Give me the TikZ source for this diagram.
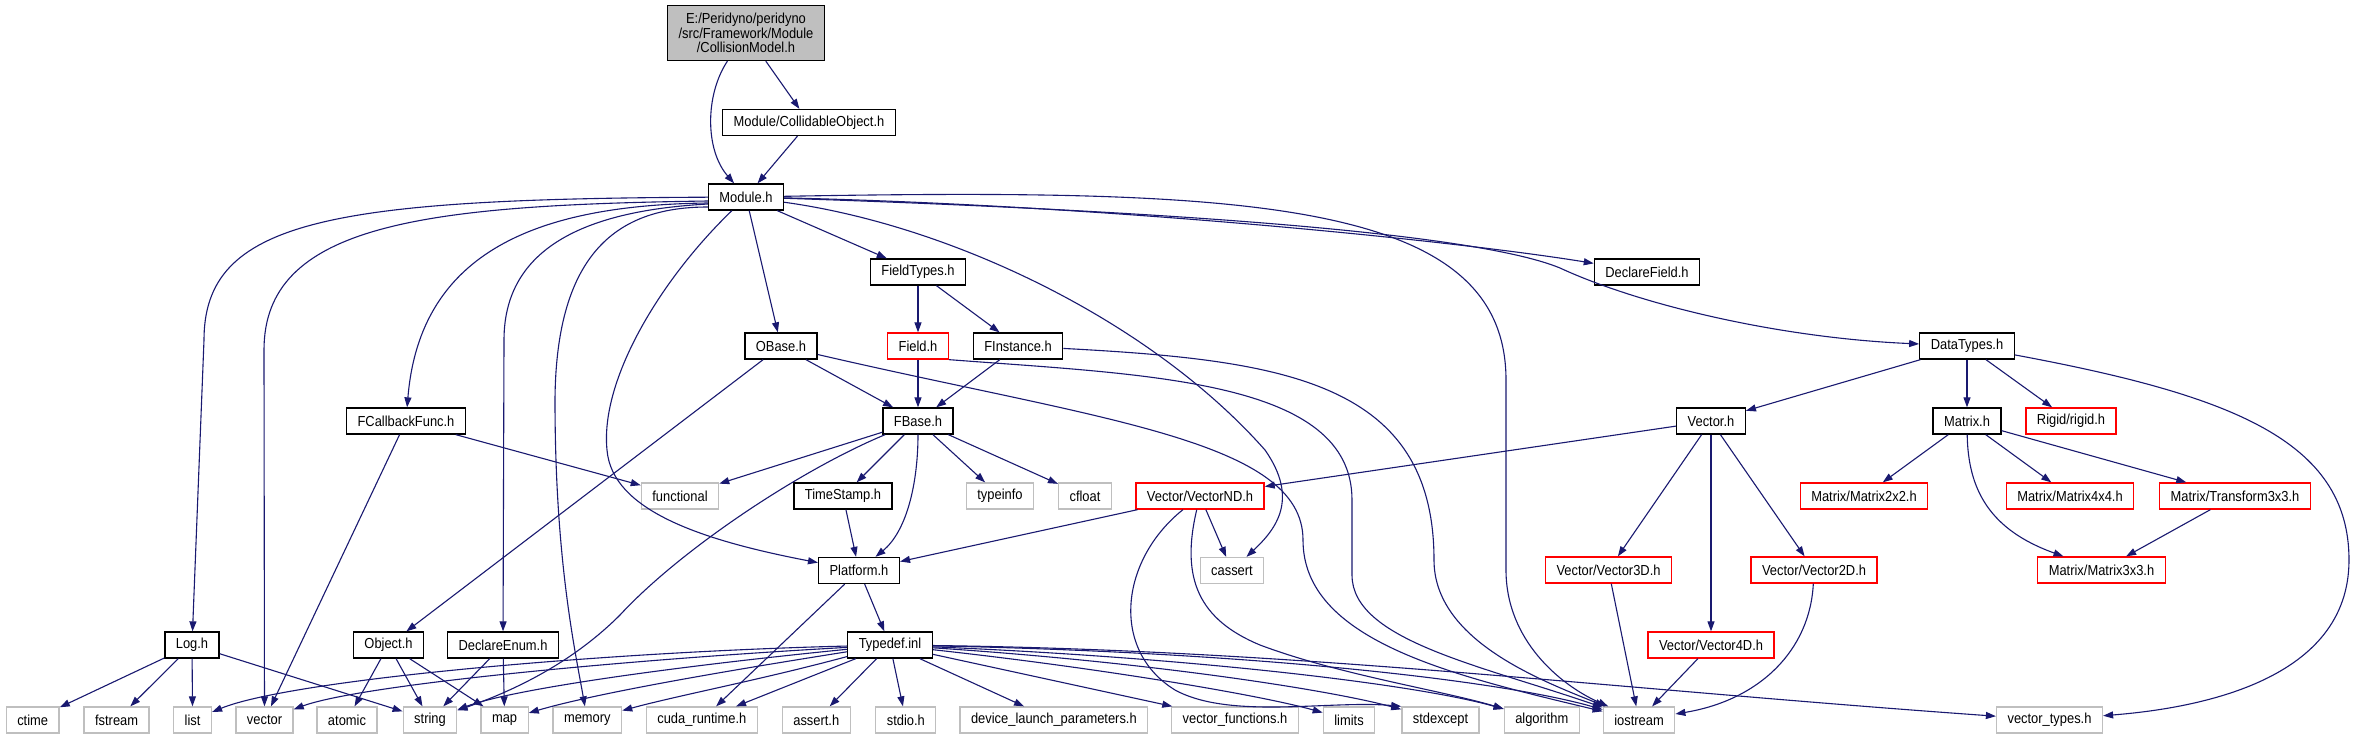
\documentclass[tikz,border=0pt]{standalone}
\usepackage{fontspec}
\setmainfont[FakeStretch=0.89]{Liberation Sans}
\usepackage{tikz}
\usetikzlibrary{arrows.meta, positioning}
\definecolor{edgeblue}{HTML}{191970}
\definecolor{nodered}{HTML}{FF0000}
\definecolor{sysgray}{HTML}{BFBFBF}
\definecolor{hdrgray}{HTML}{BFBFBF}
\tikzstyle{block}     = [rectangle, draw=black, line width=1.3pt, fill=white,
                         minimum height=26pt, inner xsep=11pt, inner ysep=2pt]
\tikzstyle{block2}    = [block, draw=nodered]
\tikzstyle{block3}    = [block, draw=sysgray]
\tikzstyle{blockhead} = [block, fill=hdrgray, align=center, minimum height=55pt]
\tikzstyle{arrow}     = [-{Triangle[length=10pt,width=7pt]}, line width=1.1pt,
                         color=edgeblue]

\begin{document}
\begin{tikzpicture}[x=1pt, y=-1pt, font=\fontsize{14.5}{14.7}\selectfont]

  \path[use as bounding box, fill=white] (0,0) rectangle (2354,739);

  %% Header
  \node[blockhead] (coll) at (746,33)
        {E:/Peridyno/peridyno\\/src/Framework/Module\\/CollisionModel.h};
  \node[block] (cobj) at (809,122.5) {Module/CollidableObject.h};
  \node[block] (mod) at (746,197) {Module.h};

  %% Module level
  \node[block] (ftypes) at (918,272) {FieldTypes.h};
  \node[block] (dfield) at (1647,272) {DeclareField.h};
  \node[block] (obase) at (781,346) {OBase.h};
  \node[block2] (field) at (918,346) {Field.h};
  \node[block] (finst) at (1018,346) {FInstance.h};
  \node[block] (dtypes) at (1967,346) {DataTypes.h};

  \node[block] (fcb) at (406,421) {FCallbackFunc.h};
  \node[block] (fbase) at (918,421) {FBase.h};
  \node[block] (vec) at (1711,421) {Vector.h};
  \node[block] (mat) at (1967,421) {Matrix.h};
  \node[block2] (rigid) at (2071,421) {Rigid/rigid.h};

  \node[block3] (functional) at (680,496) {functional};
  \node[block] (tstamp) at (843,496) {TimeStamp.h};
  \node[block3] (typeinfo) at (1000,496) {typeinfo};
  \node[block3] (cfloat) at (1085,496) {cfloat};
  \node[block2] (vnd) at (1200,496) {Vector/VectorND.h};
  \node[block2] (mtwo) at (1864,496) {Matrix/Matrix2x2.h};
  \node[block2] (mfour) at (2070,496) {Matrix/Matrix4x4.h};
  \node[block2] (tthree) at (2235,496) {Matrix/Transform3x3.h};

  \node[block] (platform) at (859,570.5) {Platform.h};
  \node[block3] (cassert) at (1232,570.5) {cassert};
  \node[block2] (vthree) at (1608.5,570) {Vector/Vector3D.h};
  \node[block2] (vtwo) at (1814,570) {Vector/Vector2D.h};
  \node[block2] (mthree) at (2101.5,570) {Matrix/Matrix3x3.h};

  \node[block] (log) at (192,645) {Log.h};
  \node[block] (object) at (388.5,645) {Object.h};
  \node[block] (denum) at (503,645) {DeclareEnum.h};
  \node[block] (typedef) at (890,645) {Typedef.inl};
  \node[block2] (vfour) at (1711,645) {Vector/Vector4D.h};

  %% System headers
  \node[block3] (ctime) at (32.7,720) {ctime};
  \node[block3] (fstream) at (116.6,720) {fstream};
  \node[block3] (list) at (192.6,720) {list};
  \node[block3] (vector) at (264.5,720) {vector};
  \node[block3] (atomic) at (347,720) {atomic};
  \node[block3] (string) at (430,720) {string};
  \node[block3] (map) at (504.6,720) {map};
  \node[block3] (memory) at (587.3,720) {memory};
  \node[block3] (cuda) at (701.8,720) {cuda\_runtime.h};
  \node[block3] (asserth) at (816.3,720) {assert.h};
  \node[block3] (stdio) at (905.8,720) {stdio.h};
  \node[block3] (dlp) at (1053.9,720) {device\_launch\_parameters.h};
  \node[block3] (vfunc) at (1235,720) {vector\_functions.h};
  \node[block3] (limits) at (1349,720) {limits};
  \node[block3] (stdexcept) at (1440.5,720) {stdexcept};
  \node[block3] (algorithm) at (1541.8,720) {algorithm};
  \node[block3] (iostream) at (1639,720) {iostream};
  \node[block3] (vtypes) at (2049.5,720) {vector\_types.h};

  %% Arrows: header
  \draw[arrow] (coll) .. controls (705,95) and (705,150) .. (mod);
  \draw[arrow] (coll) -- (cobj);
  \draw[arrow] (cobj) -- (mod);

  %% Arrows: Module.h
  \draw[arrow] (mod) .. controls (330,199) and (204,220) .. (204,340) -- (log);
  \draw[arrow] ([yshift=-4pt]mod.west) .. controls (420,205) and (264,225)
               .. (264,350) -- (vector);
  \draw[arrow] ([yshift=-6pt]mod.west) .. controls (540,205) and (420,250) .. (fcb);
  \draw[arrow] ([yshift=-7pt]mod.west) .. controls (600,210) and (504,240)
               .. (504,340) -- (denum);
  \draw[arrow] ([yshift=-10pt]mod.west) .. controls (620,207) and (556,250)
               .. (555,400) .. controls (555,560) and (575,650) .. (memory);
  \draw[arrow] (mod) .. controls (660,280) and (600,380) .. (607,450)
               .. controls (612,510) and (700,540) .. (platform);
  \draw[arrow] (mod) -- (obase);
  \draw[arrow] (mod) -- (ftypes);
  \draw[arrow] (mod) .. controls (950,225) and (1150,320) .. (1265,450)
               .. controls (1300,500) and (1275,530) .. (cassert);
  \draw[arrow] (mod) .. controls (1250,188) and (1506,200) .. (1506,380)
               -- (1506,570) .. controls (1506,640) and (1560,685) .. (iostream);
  \draw[arrow] (mod) .. controls (1100,205) and (1450,240) .. (dfield);
  \draw[arrow] (mod) .. controls (1200,212) and (1480,235) .. (1560,268)
               .. controls (1640,305) and (1780,338) .. (dtypes);

  %% Arrows: fields
  \draw[arrow] (ftypes) -- (field);
  \draw[arrow] (ftypes) -- (finst);
  \draw[arrow] (field) -- (fbase);
  \draw[arrow] (finst) -- (fbase);
  \draw[arrow] (obase) -- (fbase);
  \draw[arrow] (obase) -- (object);
  \draw[arrow] (obase) .. controls (1100,420) and (1303,440) .. (1303,540)
               .. controls (1303,640) and (1450,675) .. (iostream);
  \draw[arrow] (field.south east) .. controls (1150,375) and (1352,380) .. (1352,500)
               -- (1352,575) .. controls (1352,640) and (1480,665) .. (iostream);
  \draw[arrow] (finst) .. controls (1280,360) and (1434,380) .. (1434,560)
               .. controls (1434,640) and (1540,680) .. (iostream);

  %% Arrows: FBase.h
  \draw[arrow] (fbase) -- (functional);
  \draw[arrow] (fbase) .. controls (800,470) and (680,550) .. (620,615)
               .. controls (570,665) and (510,692) .. (string);
  \draw[arrow] (fbase) -- (tstamp);
  \draw[arrow] (fbase) .. controls (918,480) and (908,530) .. (platform);
  \draw[arrow] (fbase) -- (typeinfo);
  \draw[arrow] (fbase) -- (cfloat);
  \draw[arrow] (tstamp) -- (platform);
  \draw[arrow] (fcb) -- (functional);
  \draw[arrow] (fcb) -- (vector);

  %% Arrows: Platform.h and Typedef.inl
  \draw[arrow] (platform) -- (typedef);
  \draw[arrow] (platform) -- (cuda);
  \draw[arrow] (typedef) .. controls (600,652) and (290,680) .. (list);
  \draw[arrow] (typedef) .. controls (620,660) and (360,685) .. (vector);
  \draw[arrow] (typedef) .. controls (660,668) and (510,690) .. (string);
  \draw[arrow] (typedef) .. controls (700,675) and (590,695) .. (map);
  \draw[arrow] (typedef) .. controls (760,680) and (680,695) .. (memory);
  \draw[arrow] (typedef) -- (cuda);
  \draw[arrow] (typedef) -- (asserth);
  \draw[arrow] (typedef) -- (stdio);
  \draw[arrow] (typedef) -- (dlp);
  \draw[arrow] (typedef) -- (vfunc);
  \draw[arrow] (typedef) .. controls (1100,668) and (1260,695) .. (limits);
  \draw[arrow] (typedef) .. controls (1150,662) and (1330,690) .. (stdexcept);
  \draw[arrow] (typedef) .. controls (1200,658) and (1420,685) .. (algorithm);
  \draw[arrow] (typedef) .. controls (1250,652) and (1500,680) .. (iostream);
  \draw[arrow] (typedef) .. controls (1300,650) and (1600,688) .. (vtypes);

  %% Arrows: Log.h, Object.h, DeclareEnum.h
  \draw[arrow] (log) -- (ctime);
  \draw[arrow] (log) -- (fstream);
  \draw[arrow] (log) -- (list);
  \draw[arrow] (log) -- (string);
  \draw[arrow] (object) -- (atomic);
  \draw[arrow] (object) -- (string);
  \draw[arrow] (object) -- (map);
  \draw[arrow] (denum) -- (string);
  \draw[arrow] (denum) -- (map);

  %% Arrows: DataTypes.h
  \draw[arrow] (dtypes) -- (vec);
  \draw[arrow] (dtypes) -- (mat);
  \draw[arrow] (dtypes) -- (rigid);
  \draw[arrow] (dtypes) .. controls (2230,395) and (2349,440) .. (2349,560)
               .. controls (2349,680) and (2200,708) .. (vtypes);
  \draw[arrow] (vec) -- (vnd);
  \draw[arrow] (vec) -- (vthree);
  \draw[arrow] (vec) -- (vfour);
  \draw[arrow] (vec) -- (vtwo);
  \draw[arrow] (vnd) -- (platform);
  \draw[arrow] (vnd) -- (cassert);
  \draw[arrow] (vnd) .. controls (1120,560) and (1110,650) .. (1175,690)
               .. controls (1230,720) and (1330,700) .. (stdexcept.north west);
  \draw[arrow] (vnd) .. controls (1180,580) and (1200,620) .. (1260,645)
               .. controls (1340,675) and (1440,690) .. (algorithm);
  \draw[arrow] (vthree) -- (iostream);
  \draw[arrow] (vfour) -- (iostream);
  \draw[arrow] (vtwo) .. controls (1810,650) and (1760,700) .. (iostream);
  \draw[arrow] (mat) -- (mtwo);
  \draw[arrow] (mat) -- (mfour);
  \draw[arrow] (mat) -- (tthree);
  \draw[arrow] (mat) .. controls (1968,490) and (1990,530) .. (mthree);
  \draw[arrow] (tthree) -- (mthree);

\end{tikzpicture}
\end{document}
